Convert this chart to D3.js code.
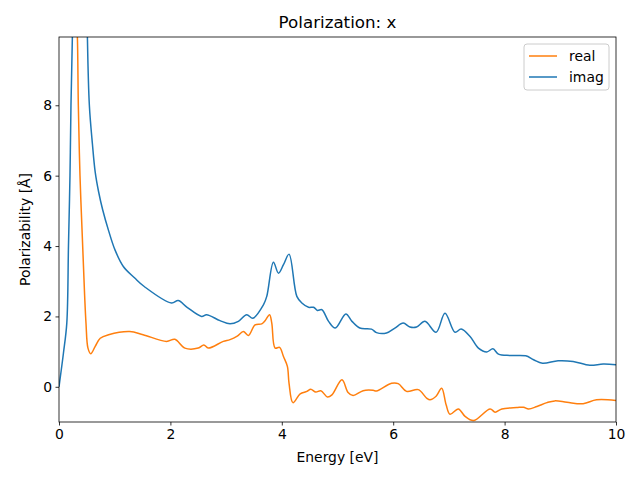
<!DOCTYPE html>
<meta charset="utf-8">
<style>
  body { margin: 0; background: #fff; }
  text { font-family: "DejaVu Sans", sans-serif; fill: #000; }
</style>
<body>
</body>
<script src="https://d3js.org/d3.v7.min.js"></script>
<script>

// energies (eV) and values
var realX = [0, 0.2, 0.3, 0.33, 0.347, 0.377, 0.425, 0.46, 0.485, 0.52, 0.57, 0.65, 0.74, 0.89, 1.27, 1.51, 1.93, 2.08, 2.26, 2.5, 2.6, 2.68, 2.95, 3.07, 3.2, 3.31, 3.4, 3.52, 3.64, 3.7, 3.78, 3.82, 3.88, 3.96, 4.03, 4.1, 4.13, 4.2, 4.33, 4.45, 4.52, 4.61, 4.7, 4.82, 4.9, 5.08, 5.19, 5.28, 5.46, 5.64, 5.7, 5.97, 6.09, 6.24, 6.45, 6.6, 6.66, 6.77, 6.87, 6.95, 7.02, 7.17, 7.29, 7.44, 7.74, 7.83, 7.95, 8.22, 8.34, 8.43, 8.58, 8.76, 8.9, 9.12, 9.41, 9.65, 10];
var realY = [16, 13, 11, 9.94, 8, 6, 4, 2.6, 1.8, 1.1, 0.94, 1.15, 1.38, 1.48, 1.57, 1.48, 1.29, 1.35, 1.1, 1.1, 1.19, 1.1, 1.29, 1.34, 1.44, 1.57, 1.46, 1.76, 1.79, 1.88, 2.05, 1.81, 1.1, 1.12, 0.86, 0.58, 0.1, -0.45, -0.2, -0.13, -0.07, -0.15, -0.11, -0.29, -0.23, 0.2, -0.16, -0.25, -0.11, -0.1, -0.12, 0.1, 0.09, -0.13, -0.08, -0.32, -0.37, -0.27, -0.04, -0.51, -0.78, -0.63, -0.84, -0.96, -0.63, -0.72, -0.63, -0.59, -0.58, -0.63, -0.56, -0.45, -0.4, -0.44, -0.48, -0.37, -0.39];

var imagX = [0, 0.08, 0.14, 0.17, 0.197, 0.215, 0.24, 0.3, 0.37, 0.45, 0.51, 0.545, 0.6, 0.65, 0.71, 0.784, 0.886, 1.005, 1.155, 1.36, 1.53, 2.02, 2.14, 2.3, 2.56, 2.65, 2.89, 3.07, 3.22, 3.37, 3.48, 3.67, 3.73, 3.85, 3.94, 4.03, 4.13, 4.27, 4.36, 4.48, 4.57, 4.64, 4.72, 4.84, 4.96, 5.15, 5.26, 5.4, 5.61, 5.7, 5.88, 6.03, 6.18, 6.3, 6.42, 6.57, 6.77, 6.93, 7.11, 7.22, 7.38, 7.53, 7.68, 7.79, 7.89, 8.1, 8.38, 8.52, 8.68, 8.96, 9.23, 9.53, 9.77, 10];
var imagY = [0, 0.96, 1.81, 4, 6, 8, 9.94, 20, 30, 20, 9.94, 8, 6.9, 6.1, 5.55, 5.03, 4.46, 3.89, 3.42, 3.09, 2.85, 2.38, 2.45, 2.26, 2.0, 2.05, 1.88, 1.79, 1.86, 2.05, 1.95, 2.33, 2.57, 3.54, 3.23, 3.47, 3.77, 2.57, 2.38, 2.26, 2.26, 2.17, 2.19, 1.86, 1.67, 2.07, 1.86, 1.67, 1.64, 1.54, 1.53, 1.67, 1.81, 1.7, 1.7, 1.86, 1.55, 2.09, 1.55, 1.64, 1.43, 1.1, 0.99, 1.08, 0.93, 0.89, 0.88, 0.77, 0.67, 0.74, 0.72, 0.61, 0.65, 0.63];

var xTicks = [0, 2, 4, 6, 8, 10];
var yTicks = [0, 2, 4, 6, 8];
var seriesNames = ["real", "imag"];
var seriesColors = ["#ff7f0e", "#1f77b4"];

var margin = {top: 37, right: 24, bottom: 58, left: 59};
var width = 640 - margin.left - margin.right;
var height = 480 - margin.top - margin.bottom;

var x = d3.scaleLinear().domain([0, 10]).range([0, width]);
var y = d3.scaleLinear().domain([-1, 9.94]).range([height, 0]);

var svg = d3.select("body").append("svg")
  .attr("width", 640)
  .attr("height", 480);

var g = svg.append("g")
  .attr("transform", "translate(" + margin.left + "," + margin.top + ")");

g.append("clipPath").attr("id", "clip")
  .append("rect").attr("width", width).attr("height", height);

var line = d3.line()
  .x(function(d){ return x(d[0]); })
  .y(function(d){ return y(d[1]); })
  .curve(d3.curveCatmullRom.alpha(0.5));

var series = [d3.zip(realX, realY), d3.zip(imagX, imagY)];

g.append("g").attr("clip-path", "url(#clip)")
  .selectAll("path")
  .data(series)
  .enter()
  .append("path")
  .attr("d", line)
  .attr("fill", "none")
  .attr("stroke", function(d, i){ return seriesColors[i]; })
  .attr("stroke-width", 1.5)
  .attr("stroke-linejoin", "round");

// axes
var xAxis = g.append("g")
  .attr("transform", "translate(0," + height + ")")
  .call(d3.axisBottom(x).tickValues(xTicks).tickSize(3.5).tickPadding(3.5).tickFormat(d3.format("d")));
var yAxis = g.append("g")
  .call(d3.axisLeft(y).tickValues(yTicks).tickSize(3.5).tickPadding(3.5).tickFormat(d3.format("d")));
[xAxis, yAxis].forEach(function(a){
  a.selectAll("text").style("font-size", "13.9px").style("font-family", "DejaVu Sans");
  a.select(".domain").remove();
  a.selectAll("line").attr("stroke", "#000").attr("stroke-width", 0.8);
});

g.append("rect")
  .attr("width", width)
  .attr("height", height)
  .attr("fill", "none")
  .attr("stroke", "#000")
  .attr("stroke-width", 0.8);

// labels
svg.append("text")
  .attr("x", margin.left + width/2)
  .attr("y", 28)
  .attr("text-anchor", "middle")
  .style("font-size", "16.7px")
  .text("Polarization: x");

svg.append("text")
  .attr("x", margin.left + width/2)
  .attr("y", 462)
  .attr("text-anchor", "middle")
  .style("font-size", "13.9px")
  .text("Energy [eV]");

svg.append("text")
  .attr("transform", "translate(30," + (margin.top + height/2) + ") rotate(-90)")
  .attr("text-anchor", "middle")
  .style("font-size", "13.9px")
  .text("Polarizability [Å]");

// legend
var legend = svg.append("g").attr("transform", "translate(524,44)");
legend.append("rect")
  .attr("width", 85).attr("height", 46)
  .attr("rx", 3)
  .attr("fill", "#fff").attr("fill-opacity", 0.8)
  .attr("stroke", "#ccc").attr("stroke-width", 1);
var items = legend.selectAll(".item")
  .data(seriesNames)
  .enter()
  .append("g")
  .attr("transform", function(d, i){ return "translate(0," + (12 + i*21) + ")"; });
items.append("line")
  .attr("x1", 5).attr("x2", 33)
  .attr("stroke", function(d, i){ return seriesColors[i]; })
  .attr("stroke-width", 1.5);
items.append("text")
  .attr("x", 45).attr("y", 5)
  .style("font-size", "13.9px")
  .text(function(d){ return d; });

</script>
